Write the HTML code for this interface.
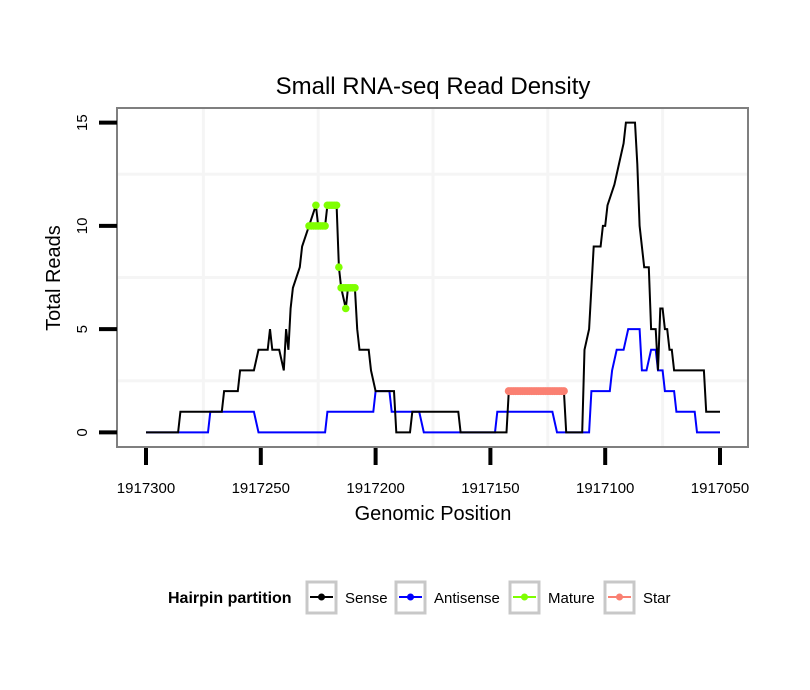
<!DOCTYPE html>
<html><head><meta charset="utf-8"><style>
body{margin:0;background:#fff;}
svg{display:block;font-family:"Liberation Sans",sans-serif;}
</style></head><body>
<svg id="chart" width="810" height="690" viewBox="0 0 810 690">
<rect x="0" y="0" width="810" height="690" fill="#fff"/>
<text x="433" y="94" font-size="24" text-anchor="middle">Small RNA-seq Read Density</text>
<rect x="117" y="108" width="631" height="339" fill="#fff"/>
<g id="grid"></g>
<g id="series"></g>
<rect x="117" y="108" width="631" height="339" fill="none" stroke="#7f7f7f" stroke-width="2"/>
<g id="axes"></g>
<text x="433" y="520" font-size="20" text-anchor="middle">Genomic Position</text>
<text transform="translate(60,278) rotate(-90)" font-size="20" text-anchor="middle">Total Reads</text>
<g>
<text x="168" y="603" font-size="16" font-weight="bold">Hairpin partition</text>
<g>
<rect x="307" y="582" width="29" height="31" fill="#fff" stroke="#c8c8c8" stroke-width="3"/>
<line x1="310" y1="597" x2="333" y2="597" stroke="#000" stroke-width="2"/><circle cx="321.5" cy="597" r="3.5" fill="#000"/>
<text x="345" y="603" font-size="15">Sense</text></g>
<g>
<rect x="396" y="582" width="29" height="31" fill="#fff" stroke="#c8c8c8" stroke-width="3"/>
<line x1="399" y1="597" x2="422" y2="597" stroke="#0000ff" stroke-width="2"/><circle cx="410.5" cy="597" r="3.5" fill="#0000ff"/>
<text x="434" y="603" font-size="15">Antisense</text></g>
<g>
<rect x="510" y="582" width="29" height="31" fill="#fff" stroke="#c8c8c8" stroke-width="3"/>
<line x1="513" y1="597" x2="536" y2="597" stroke="#7fff00" stroke-width="2"/><circle cx="524.5" cy="597" r="3.5" fill="#7fff00"/>
<text x="548" y="603" font-size="15">Mature</text></g>
<g>
<rect x="605" y="582" width="29" height="31" fill="#fff" stroke="#c8c8c8" stroke-width="3"/>
<line x1="608" y1="597" x2="631" y2="597" stroke="#fa8072" stroke-width="2"/><circle cx="619.5" cy="597" r="3.5" fill="#fa8072"/>
<text x="643" y="603" font-size="15">Star</text></g>
</g>
</svg>
<script>
const xTicks = [1917300, 1917250, 1917200, 1917150, 1917100, 1917050];
const yTicks = [0, 5, 10, 15];
const sensePos = [1917300,1917286,1917285,1917267,1917266,1917260,1917259,1917253,1917251,1917247,1917246,1917245,1917242,1917240,1917239,1917238,1917237,1917236,1917233,1917232,1917229,1917226,1917225,1917222,1917221,1917217,1917216,1917215,1917213,1917212,1917209,1917208,1917207,1917203,1917202,1917200,1917192,1917191,1917185,1917184,1917164,1917163,1917143,1917142,1917118,1917117,1917110,1917109,1917107,1917105,1917102,1917101,1917100,1917099,1917096,1917094,1917092,1917091,1917087,1917086,1917085,1917083,1917081,1917080,1917078,1917077,1917076,1917075,1917074,1917073,1917072,1917071,1917070,1917057,1917056,1917050];
const senseVal = [0,0,1,1,2,2,3,3,4,4,5,4,4,3,5,4,6,7,8,9,10,11,10,10,11,11,8,7,6,7,7,5,4,4,3,2,2,0,0,1,1,0,0,2,2,0,0,4,5,9,9,10,10,11,12,13,14,15,15,13,10,8,8,5,5,3,6,6,5,5,4,4,3,3,1,1];
const antiPos = [1917300,1917273,1917272,1917253,1917251,1917222,1917221,1917201,1917200,1917194,1917193,1917181,1917179,1917148,1917147,1917123,1917121,1917107,1917106,1917098,1917097,1917095,1917092,1917090,1917085,1917084,1917082,1917080,1917078,1917077,1917075,1917074,1917070,1917069,1917061,1917060,1917050];
const antiVal = [0,0,1,1,0,0,1,1,2,2,1,1,0,0,1,1,0,0,2,2,3,4,4,5,5,3,3,4,4,3,3,2,2,1,1,0,0];
const maturePos = [1917229,1917228,1917227,1917226,1917226,1917225,1917224,1917223,1917222,1917221,1917220,1917219,1917218,1917217,1917216,1917215,1917214,1917213,1917213,1917212,1917211,1917210,1917209];
const matureVal = [10,10,10,10,11,10,10,10,10,11,11,11,11,11,8,7,7,7,6,7,7,7,7];
const starPos = [1917142,1917141,1917140,1917139,1917138,1917137,1917136,1917135,1917134,1917133,1917132,1917131,1917130,1917129,1917128,1917127,1917126,1917125,1917124,1917123,1917122,1917121,1917120,1917119,1917118];
const starVal = [2,2,2,2,2,2,2,2,2,2,2,2,2,2,2,2,2,2,2,2,2,2,2,2,2];

const NS='http://www.w3.org/2000/svg';
function xs(p){return 146 + (1917300 - p) * 574/250;}
function ys(v){return 432.4 - v * 20.65;}
function mk(tag, attrs, parent){const e=document.createElementNS(NS,tag);for(const k in attrs)e.setAttribute(k,attrs[k]);parent.appendChild(e);return e;}
const grid=document.getElementById('grid'), axes=document.getElementById('axes'), series=document.getElementById('series');
for(let i=0;i<xTicks.length-1;i++){
  const p=(xTicks[i]+xTicks[i+1])/2;
  const g=mk('line',{x1:xs(p),x2:xs(p),y1:108,y2:447,stroke:'#f5f5f5','stroke-width':3},grid);
  
  
}
for(let i=0;i<yTicks.length-1;i++){
  const v=(yTicks[i]+yTicks[i+1])/2;
  const g=mk('line',{x1:117,x2:748,y1:ys(v),y2:ys(v),stroke:'#f5f5f5','stroke-width':3},grid);
  
  
}
xTicks.forEach(t=>{
  const tk=mk('line',{x1:xs(t),x2:xs(t),y1:448,y2:465,stroke:'#000','stroke-width':4},axes);
  
  
  const lb=mk('text',{x:xs(t),y:493,'font-size':15,'text-anchor':'middle'},axes);
  lb.textContent=t;
  
  
});
yTicks.forEach(t=>{
  const tk=mk('line',{x1:99,x2:117,y1:ys(t),y2:ys(t),stroke:'#000','stroke-width':4},axes);
  
  
  const lb=mk('text',{transform:`translate(87,${ys(t)}) rotate(-90)`,'font-size':15,'text-anchor':'middle'},axes);
  lb.textContent=t;
  
  
});
function pts(P,V){return P.map((p,i)=>xs(p).toFixed(1)+','+ys(V[i]).toFixed(1)).join(' ');}
const a=mk('polyline',{points:pts(antiPos,antiVal),fill:'none',stroke:'#0000ff','stroke-width':2},series);


const s=mk('polyline',{points:pts(sensePos,senseVal),fill:'none',stroke:'#000','stroke-width':2},series);


starPos.forEach((p,i)=>{
  const c=mk('circle',{cx:xs(p),cy:ys(starVal[i]),r:4,fill:'#fa8072'},series);
  
  
});
maturePos.forEach((p,i)=>{
  const c=mk('circle',{cx:xs(p),cy:ys(matureVal[i]),r:3.8,fill:'#7fff00'},series);
  
  
});
</script>
</body></html>
